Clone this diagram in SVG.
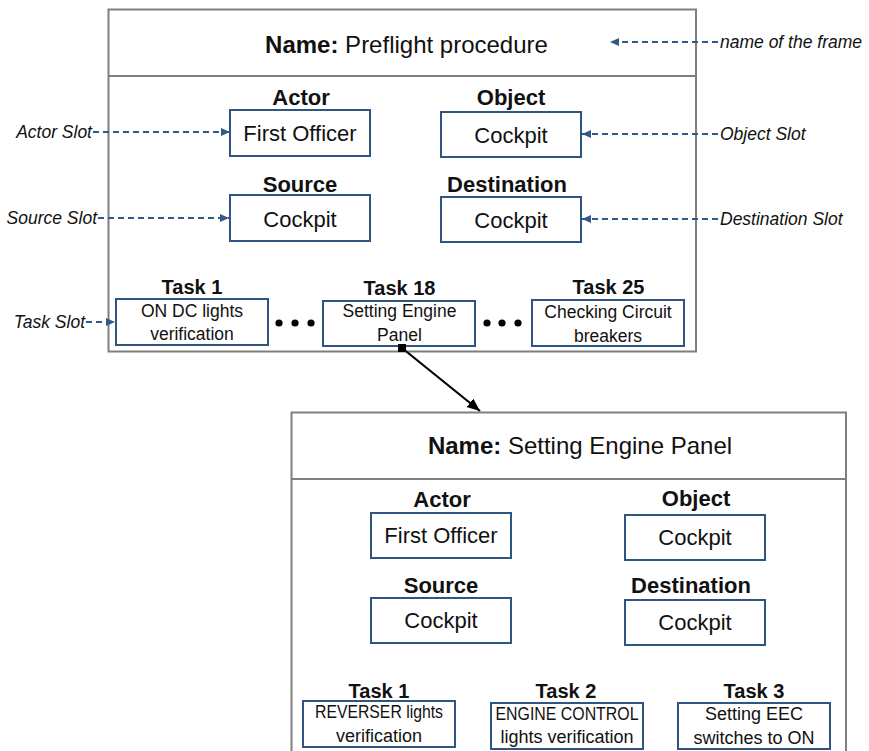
<svg xmlns="http://www.w3.org/2000/svg" width="869" height="751" viewBox="0 0 869 751">
<defs>
<marker id="blueHead" markerUnits="userSpaceOnUse" markerWidth="10" markerHeight="8" refX="9" refY="4" orient="auto">
<path d="M0,0 L9,4 L0,8 z" fill="#2f5a8a"/>
</marker>
<marker id="blackHead" markerUnits="userSpaceOnUse" markerWidth="14" markerHeight="12" refX="13" refY="5.5" orient="auto">
<path d="M0,0 L13,5.5 L0,11 z" fill="#000"/>
</marker>
<marker id="blackTail" markerUnits="userSpaceOnUse" markerWidth="8" markerHeight="8" refX="4" refY="4" orient="0">
<rect x="0" y="0" width="8" height="8" fill="#000"/>
</marker>
</defs>
<style>
.frame{fill:#fff;stroke:#7f7f7f;stroke-width:2}
.div{stroke:#7f7f7f;stroke-width:2}
.box{fill:#fff;stroke:#2f5683;stroke-width:2}
text{font-family:"Liberation Sans",Arial,sans-serif;fill:#111}
.title{font-size:24px;text-anchor:middle}
.lab{font-size:22px;font-weight:bold;text-anchor:middle}
.val{font-size:22px;text-anchor:middle}
.tlab{font-size:20px;font-weight:bold;text-anchor:middle}
.tval{font-size:17.5px;text-anchor:middle}
.tval2{font-size:18px;text-anchor:middle}
.side{font-size:17.5px;font-style:italic}
.dash{stroke:#2f5a8a;stroke-width:1.8;stroke-dasharray:6 4;fill:none;marker-end:url(#blueHead)}
.dot{fill:#000}
</style>

<g id="frame-preflight">
<rect class="frame" x="108.5" y="9.5" width="587.5" height="342"/>
<line class="div" x1="108.5" y1="76" x2="696" y2="76"/>
<text class="title" x="406.5" y="53"><tspan font-weight="bold">Name:</tspan> Preflight procedure</text>
</g>
<g id="p-actor">
<text class="lab" x="301" y="105">Actor</text>
<rect class="box" x="230" y="110" width="140" height="46"/>
<text class="val" x="300" y="141">First Officer</text>
</g>
<g id="p-object">
<text class="lab" x="511" y="105">Object</text>
<rect class="box" x="441" y="112" width="140" height="45"/>
<text class="val" x="511" y="143">Cockpit</text>
</g>
<g id="p-source">
<text class="lab" x="300" y="192">Source</text>
<rect class="box" x="230" y="195" width="140" height="46"/>
<text class="val" x="300" y="227">Cockpit</text>
</g>
<g id="p-destination">
<text class="lab" x="507" y="192">Destination</text>
<rect class="box" x="441" y="197" width="140" height="45"/>
<text class="val" x="511" y="228">Cockpit</text>
</g>
<g id="p-task1">
<text class="tlab" x="192" y="294">Task 1</text>
<rect class="box" x="116" y="299" width="152" height="46"/>
<text class="tval" x="192" y="317">ON DC lights</text>
<text class="tval" x="192" y="340">verification</text>
</g>
<g id="p-dots1">
<circle class="dot" cx="279" cy="323" r="3.6"/>
<circle class="dot" cx="295" cy="323" r="3.6"/>
<circle class="dot" cx="311" cy="323" r="3.6"/>
</g>
<g id="p-task18">
<text class="tlab" x="399.5" y="295">Task 18</text>
<rect class="box" x="323" y="301" width="152" height="45"/>
<text class="tval" x="399.5" y="317">Setting Engine</text>
<text class="tval" x="399.5" y="341">Panel</text>
</g>
<g id="p-dots2">
<circle class="dot" cx="487" cy="323" r="3.6"/>
<circle class="dot" cx="502" cy="323" r="3.6"/>
<circle class="dot" cx="518" cy="323" r="3.6"/>
</g>
<g id="p-task25">
<text class="tlab" x="608.5" y="294">Task 25</text>
<rect class="box" x="532" y="300" width="152" height="46"/>
<text class="tval" x="608" y="318">Checking Circuit</text>
<text class="tval" x="608" y="342">breakers</text>
</g>

<g id="side-labels">
<text class="side" x="720" y="48">name of the frame</text>
<text class="side" x="720" y="140">Object Slot</text>
<text class="side" x="720" y="225">Destination Slot</text>
<text class="side" x="92" y="138" text-anchor="end">Actor Slot</text>
<text class="side" x="97" y="224" text-anchor="end">Source Slot</text>
<text class="side" x="85" y="328" text-anchor="end">Task Slot</text>
</g>

<g id="frame-setting">
<rect class="frame" x="291.5" y="412.5" width="554.5" height="360"/>
<line class="div" x1="291.5" y1="479" x2="846" y2="479"/>
<text class="title" x="580" y="454"><tspan font-weight="bold">Name:</tspan> Setting Engine Panel</text>
</g>
<g id="s-actor">
<text class="lab" x="442" y="507">Actor</text>
<rect class="box" x="371" y="513" width="140" height="45"/>
<text class="val" x="441" y="543">First Officer</text>
</g>
<g id="s-object">
<text class="lab" x="696" y="506">Object</text>
<rect class="box" x="625" y="515" width="140" height="45"/>
<text class="val" x="695" y="545">Cockpit</text>
</g>
<g id="s-source">
<text class="lab" x="441" y="593">Source</text>
<rect class="box" x="371" y="598" width="140" height="45"/>
<text class="val" x="441" y="628">Cockpit</text>
</g>
<g id="s-destination">
<text class="lab" x="691" y="593">Destination</text>
<rect class="box" x="625" y="600" width="140" height="45"/>
<text class="val" x="695" y="630">Cockpit</text>
</g>
<g id="s-task1">
<text class="tlab" x="379" y="698">Task 1</text>
<rect class="box" x="303" y="701" width="152" height="46"/>
<text class="tval2" x="379" y="718" textLength="128" lengthAdjust="spacingAndGlyphs">REVERSER lights</text>
<text class="tval2" x="379" y="742">verification</text>
</g>
<g id="s-task2">
<text class="tlab" x="566" y="698">Task 2</text>
<rect class="box" x="491" y="703" width="152" height="46"/>
<text class="tval2" x="567" y="720" textLength="143" lengthAdjust="spacingAndGlyphs">ENGINE CONTROL</text>
<text class="tval2" x="567" y="743">lights verification</text>
</g>
<g id="s-task3">
<text class="tlab" x="754" y="698">Task 3</text>
<rect class="box" x="678" y="703" width="152" height="46"/>
<text class="tval2" x="754" y="720">Setting EEC</text>
<text class="tval2" x="754" y="744">switches to ON</text>
</g>

<g id="connectors">
<line class="dash" x1="718" y1="42" x2="610" y2="42"/>
<line class="dash" x1="718" y1="134" x2="582" y2="134"/>
<line class="dash" x1="718" y1="219" x2="582" y2="219"/>
<line class="dash" x1="93" y1="132" x2="230" y2="132"/>
<line class="dash" x1="98" y1="218" x2="229" y2="218"/>
<line class="dash" x1="86" y1="322" x2="115" y2="322"/>
<line x1="402" y1="348" x2="480" y2="411" stroke="#000" stroke-width="2.2" marker-start="url(#blackTail)" marker-end="url(#blackHead)"/>
</g>
</svg>
